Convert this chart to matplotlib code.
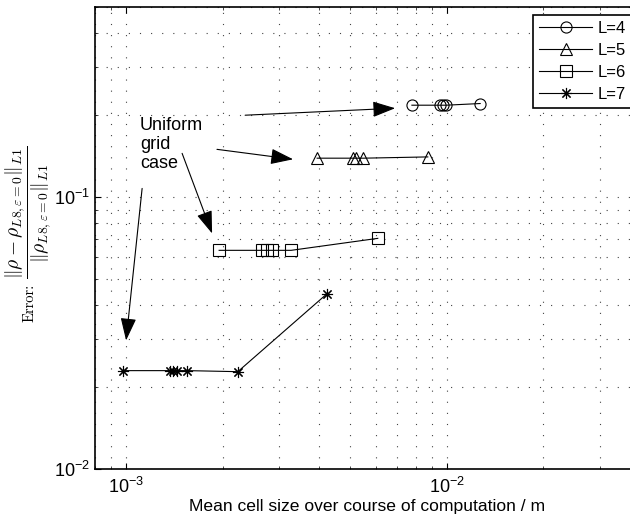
import numpy as np
import matplotlib
matplotlib.use("Agg")
import matplotlib.pyplot as plt
from matplotlib.ticker import FuncFormatter, LogLocator

plt.rcParams['font.family'] = ['Liberation Sans', 'DejaVu Sans']
plt.rcParams['font.size'] = 10

# ─── data ────────────────────────────────────────────────────────
labels = ["L=4", "L=5", "L=6", "L=7"]
markers = ["o", "^", "s", (8, 2, 0)]

cell_L4 = [7.78e-3, 9.53e-3, 9.74e-3, 9.95e-3, 1.27e-2]
err_L4 = [0.2177, 0.2177, 0.2177, 0.2177, 0.2208]

cell_L5 = [3.94e-3, 5.10e-3, 5.20e-3, 5.49e-3, 8.72e-3]
err_L5 = [0.1390, 0.1390, 0.1390, 0.1390, 0.1405]

cell_L6 = [1.95e-3, 2.66e-3, 2.74e-3, 2.86e-3, 3.27e-3, 6.09e-3]
err_L6 = [0.0637, 0.0637, 0.0637, 0.0637, 0.0637, 0.0705]

cell_L7 = [9.79e-4, 1.371e-3, 1.404e-3, 1.439e-3, 1.553e-3, 2.23e-3, 4.23e-3]
err_L7 = [0.0230, 0.0230, 0.0230, 0.0230, 0.0230, 0.0228, 0.0441]

cells = [cell_L4, cell_L5, cell_L6, cell_L7]
errs = [err_L4, err_L5, err_L6, err_L7]

# annotation arrows: (start, end) in data coords
arrow_starts = [(2.35e-3, 0.200), (1.92e-3, 0.1498), (1.495e-3, 0.1448), (1.122e-3, 0.1076)]
arrow_ends = [(6.90e-3, 0.2122), (3.316e-3, 0.1377), (1.854e-3, 0.0735), (1.0e-3, 0.0297)]

fig = plt.figure(figsize=(6.30, 5.24), dpi=100)
ax = fig.add_axes([95 / 630, 1 - 469 / 524, 545 / 630, 462 / 524])

for x, y, m, lab in zip(cells, errs, markers, labels):
    ax.plot(x, y, color="black", linewidth=0.8, marker=m, markersize=8,
            markerfacecolor="none", markeredgecolor="black",
            markeredgewidth=0.8, label=lab)

ax.set_xscale("log")
ax.set_yscale("log")
ax.set_xlim(8e-4, 4e-2)
ax.set_ylim(1e-2, 0.5)

fmt = FuncFormatter(lambda v, p: r"$\mathregular{10^{%d}}$" % round(np.log10(v)))
ax.xaxis.set_major_formatter(fmt)
ax.yaxis.set_major_formatter(fmt)
ax.xaxis.set_minor_locator(LogLocator(base=10, subs=np.arange(2, 10)))
ax.yaxis.set_minor_locator(LogLocator(base=10, subs=np.arange(2, 10)))
ax.tick_params(which="both", direction="in", top=True, right=True, labelsize=13)
ax.tick_params(which="major", length=4, width=0.8)
ax.tick_params(which="minor", length=2, width=0.5)
ax.tick_params(axis="x", pad=6)

ax.grid(True, which="both", color="#444444", linestyle=(0, (1, 9)), linewidth=0.8)
for sp in ax.spines.values():
    sp.set_linewidth(1.2)

ax.set_xlabel("Mean cell size over course of computation / m", fontsize=12.6, labelpad=1)

# y label: small "Error:" plus a large fraction, as in the reference
fig.text(30 / 630, 1 - 303 / 524, "Error:", rotation=90, ha="center", va="center",
         fontsize=10.5, fontfamily="cmr10")
fig.text(28 / 630, 1 - 212 / 524,
         r"$\dfrac{\|\rho-\rho_{L8,\varepsilon=0}\|_{L1}}{\|\rho_{L8,\varepsilon=0}\|_{L1}}$",
         rotation=90, ha="center", va="center", fontsize=14, math_fontfamily="cm")

leg = ax.legend(loc="upper right", bbox_to_anchor=(0.984, 0.983), borderaxespad=0,
                fontsize=12, handlelength=3.2, handletextpad=0.3, labelspacing=0.42,
                borderpad=0.35, fancybox=False, framealpha=1)
leg.get_frame().set_edgecolor("black")
leg.get_frame().set_linewidth(1.2)

ax.text(1.106e-3, 0.1966, "Uniform\ngrid\ncase", ha="left", va="top",
        fontsize=13, linespacing=1.15)
for s, e in zip(arrow_starts, arrow_ends):
    ax.annotate("", xy=e, xytext=s,
                arrowprops=dict(arrowstyle="-|>,head_length=1.0,head_width=0.35",
                                color="black", lw=0.8, mutation_scale=14,
                                shrinkA=0, shrinkB=0))

fig.savefig("out.png", dpi=100)
